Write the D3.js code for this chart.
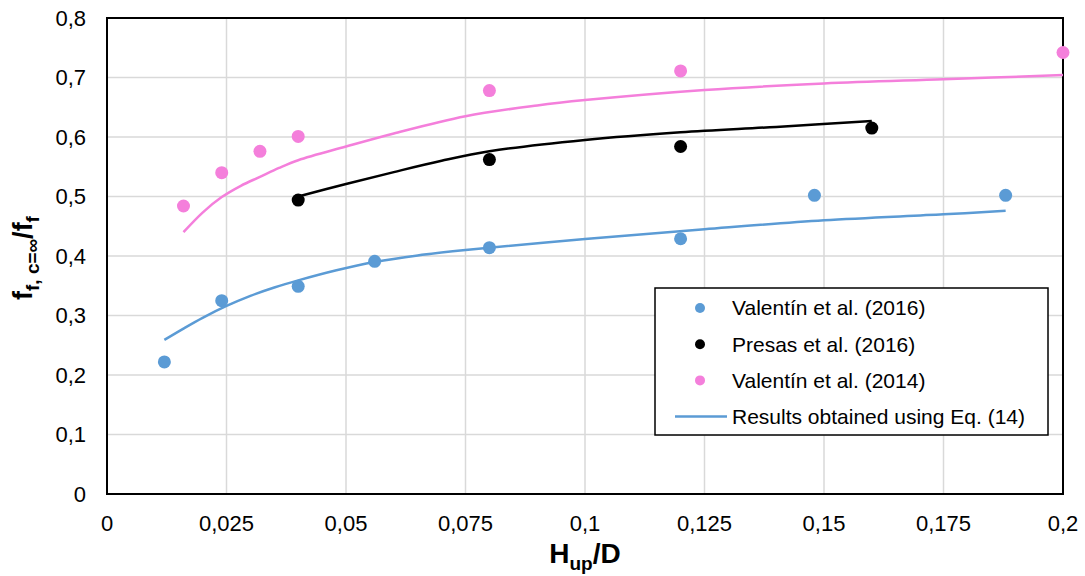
<!DOCTYPE html>
<html>
<head>
<meta charset="utf-8">
<script src="https://cdn.jsdelivr.net/npm/d3@7"></script>
<style>
  body { margin: 0; background: #fff; }
  svg { display: block; font-family: "Liberation Sans", Arial, sans-serif; }
</style>
</head>
<body>
<svg></svg>
<script>
// measured data
const blueX = [0.012, 0.024, 0.04, 0.056, 0.08, 0.12, 0.148, 0.188];
const blueY = [0.222, 0.325, 0.349, 0.391, 0.414, 0.429, 0.502, 0.502];
const blackX = [0.04, 0.08, 0.12, 0.16];
const blackY = [0.494, 0.562, 0.584, 0.615];
const pinkX = [0.016, 0.024, 0.032, 0.04, 0.08, 0.12, 0.2];
const pinkY = [0.484, 0.540, 0.576, 0.601, 0.678, 0.711, 0.742];

// Eq. (14) curves
const blueFitX = [0.012, 0.016, 0.02, 0.025, 0.03, 0.035, 0.04, 0.048, 0.056, 0.065, 0.075, 0.1, 0.125, 0.15, 0.175, 0.188];
const blueFitY = [0.259, 0.278, 0.296, 0.316, 0.333, 0.347, 0.359, 0.376, 0.39, 0.401, 0.41, 0.4286, 0.445, 0.46, 0.47, 0.476];
const blackFitX = [0.04, 0.05, 0.06, 0.07, 0.08, 0.1, 0.12, 0.14, 0.16];
const blackFitY = [0.5, 0.521, 0.541, 0.56, 0.576, 0.595, 0.608, 0.617, 0.627];
const pinkFitX = [0.016, 0.02, 0.024, 0.028, 0.032, 0.036, 0.04, 0.05, 0.06, 0.075, 0.09, 0.1, 0.125, 0.15, 0.175, 0.2];
const pinkFitY = [0.44, 0.473, 0.499, 0.518, 0.533, 0.548, 0.561, 0.584, 0.606, 0.635, 0.653, 0.662, 0.679, 0.69, 0.697, 0.704];

const xTicks = [0, 0.025, 0.05, 0.075, 0.1, 0.125, 0.15, 0.175, 0.2];
const yTicks = [0, 0.1, 0.2, 0.3, 0.4, 0.5, 0.6, 0.7, 0.8];

const legendLabels = ["Valentín et al. (2016)", "Presas et al. (2016)", "Valentín et al. (2014)", "Results obtained using Eq. (14)"];

const blue = "#5b9bd5";
const pink = "#f47fdb";

const width = 1085;
const height = 576;
const svg = d3.select("svg").attr("width", width).attr("height", height);

const pLeft = 107, pRight = 1063, pTop = 18, pBottom = 494;
const x = d3.scaleLinear().domain([0, 0.2]).range([pLeft, pRight]);
const y = d3.scaleLinear().domain([0, 0.8]).range([pBottom, pTop]);

const fmt = v => String(+v.toFixed(3)).replace(".", ",");

// gridlines
svg.append("g").selectAll("line")
    .data(xTicks.slice(1, -1))
    .enter().append("line")
    .attr("x1", d => x(d)).attr("x2", d => x(d))
    .attr("y1", pTop).attr("y2", pBottom)
    .attr("stroke", "#d9d9d9").attr("stroke-width", 1.5);

svg.append("g").selectAll("line")
    .data(yTicks.slice(1, -1))
    .enter().append("line")
    .attr("x1", pLeft).attr("x2", pRight)
    .attr("y1", d => y(d)).attr("y2", d => y(d))
    .attr("stroke", "#d9d9d9").attr("stroke-width", 1.5);

// tick labels
svg.append("g").selectAll("text")
    .data(yTicks)
    .enter().append("text")
    .attr("x", 86)
    .attr("y", d => y(d))
    .attr("dy", "0.36em")
    .attr("text-anchor", "end")
    .attr("font-size", "22px")
    .attr("fill", "#000")
    .text(fmt);

svg.append("g").selectAll("text")
    .data(xTicks)
    .enter().append("text")
    .attr("x", d => x(d))
    .attr("y", 531)
    .attr("text-anchor", "middle")
    .attr("font-size", "22px")
    .attr("fill", "#000")
    .text(fmt);

// plot border
svg.append("rect")
    .attr("x", pLeft).attr("y", pTop)
    .attr("width", pRight - pLeft).attr("height", pBottom - pTop)
    .attr("fill", "none").attr("stroke", "#000").attr("stroke-width", 2);

// curves
const line = d3.line()
    .x(d => x(d[0]))
    .y(d => y(d[1]))
    .curve(d3.curveCatmullRom.alpha(0.5));

const fits = [
    { xs: blueFitX, ys: blueFitY, color: blue },
    { xs: blackFitX, ys: blackFitY, color: "#000" },
    { xs: pinkFitX, ys: pinkFitY, color: pink }
];
fits.forEach(f => {
    svg.append("path")
        .datum(f.xs.map((v, i) => [v, f.ys[i]]))
        .attr("d", line)
        .attr("fill", "none")
        .attr("stroke", f.color)
        .attr("stroke-width", 2.5);
});

// points
const series = [
    { xs: blueX, ys: blueY, color: blue },
    { xs: blackX, ys: blackY, color: "#000" },
    { xs: pinkX, ys: pinkY, color: pink }
];
series.forEach(s => {
    svg.append("g").selectAll("circle")
        .data(s.xs.map((v, i) => [v, s.ys[i]]))
        .enter().append("circle")
        .attr("cx", d => x(d[0]))
        .attr("cy", d => y(d[1]))
        .attr("r", 6.5)
        .attr("fill", s.color);
});

// axis titles
const xt = svg.append("text")
    .attr("x", (pLeft + pRight) / 2)
    .attr("y", 563)
    .attr("text-anchor", "middle")
    .attr("font-size", "28px")
    .attr("font-weight", "bold");
xt.append("tspan").text("H");
xt.append("tspan").attr("dy", 7).attr("font-size", "19px").text("up");
xt.append("tspan").attr("dy", -7).text("/D");

const yt = svg.append("text")
    .attr("transform", `translate(32, ${(pTop + pBottom) / 2 + 2}) rotate(-90)`)
    .attr("text-anchor", "middle")
    .attr("font-size", "27px")
    .attr("font-weight", "bold");
yt.append("tspan").text("f");
yt.append("tspan").attr("dy", 7).attr("font-size", "19px").text("f, c=∞");
yt.append("tspan").attr("dy", -7).text("/f");
yt.append("tspan").attr("dy", 7).attr("font-size", "19px").text("f");

// legend
const lg = svg.append("g");
lg.append("rect")
    .attr("x", 655).attr("y", 288)
    .attr("width", 393).attr("height", 147)
    .attr("fill", "#fff").attr("stroke", "#000").attr("stroke-width", 1.5);

const legendColors = [blue, "#000", pink, blue];
legendLabels.forEach((label, i) => {
    const ly = 308 + i * 36.2;
    if (i < 3) {
        lg.append("circle").attr("cx", 700).attr("cy", ly).attr("r", 5).attr("fill", legendColors[i]);
    } else {
        lg.append("line").attr("x1", 675).attr("x2", 727).attr("y1", ly).attr("y2", ly)
            .attr("stroke", legendColors[i]).attr("stroke-width", 2.5);
    }
    lg.append("text")
        .attr("x", 732).attr("y", ly)
        .attr("dy", "0.35em")
        .attr("font-size", "21px")
        .text(label);
});
</script>
</body>
</html>
